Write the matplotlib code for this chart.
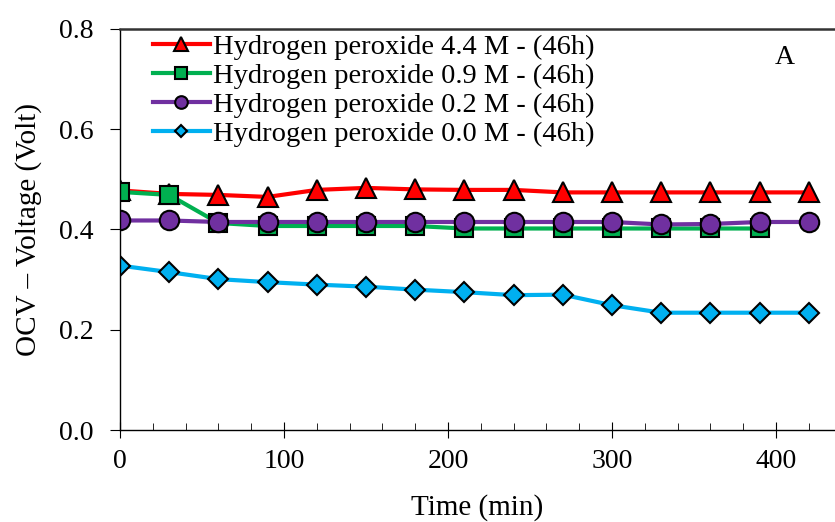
import matplotlib.pyplot as plt
from matplotlib.ticker import MultipleLocator

plt.rcParams['font.family'] = ['Liberation Serif', 'DejaVu Serif']

time_min = [0, 30, 60, 90, 120, 150, 180, 210, 240, 270, 300, 330, 360, 390, 420]

h2o2_44 = [0.478, 0.471, 0.469, 0.465, 0.479, 0.483, 0.480, 0.479, 0.479, 0.474,
           0.474, 0.474, 0.474, 0.474, 0.474]
h2o2_09 = [0.475, 0.469, 0.413, 0.407, 0.407, 0.407, 0.407, 0.402, 0.402, 0.402,
           0.402, 0.402, 0.402, 0.402]
h2o2_02 = [0.418, 0.418, 0.415, 0.415, 0.415, 0.415, 0.415, 0.415, 0.415, 0.415,
           0.415, 0.410, 0.411, 0.415, 0.415]
h2o2_00 = [0.328, 0.315, 0.301, 0.295, 0.290, 0.286, 0.280, 0.275, 0.269, 0.270,
           0.249, 0.234, 0.234, 0.234, 0.234]

labels = ['Hydrogen peroxide 4.4 M - (46h)',
          'Hydrogen peroxide 0.9 M - (46h)',
          'Hydrogen peroxide 0.2 M - (46h)',
          'Hydrogen peroxide 0.0 M - (46h)']

fig = plt.figure(figsize=(8.35, 5.22), dpi=100)
ax = fig.add_axes([120 / 835, 1 - 430 / 522, 715 / 835, 401 / 522])

lw = 3
ax.plot(time_min, h2o2_44, color='#FF0000', lw=lw, marker='^', ms=15,
        mec='black', mew=1.5, label=labels[0])
ax.plot(time_min[:len(h2o2_09)], h2o2_09, color='#00B050', lw=lw, marker='s', ms=13,
        mec='black', mew=1.5, label=labels[1])
ax.plot(time_min, h2o2_02, color='#7030A0', lw=lw, marker='o', ms=14,
        mec='black', mew=1.5, label=labels[2])
ax.plot(time_min, h2o2_00, color='#00B0F0', lw=lw, marker='D', ms=10,
        mec='black', mew=1.5, label=labels[3])

ax.set_xlim(0, 436)
ax.set_ylim(0, 0.8)
ax.xaxis.set_major_locator(MultipleLocator(100))
ax.xaxis.set_minor_locator(MultipleLocator(20))
ax.yaxis.set_major_locator(MultipleLocator(0.2))
ax.yaxis.set_major_formatter(plt.FuncFormatter(lambda v, p: f'{v:.1f}'))

ax.spines['right'].set_visible(False)
for s in ['left', 'bottom']:
    ax.spines[s].set_linewidth(1.0)
ax.spines['top'].set_linewidth(1.8)
ax.spines['top'].set_color('#333333')

ax.tick_params(axis='x', which='major', direction='inout', length=12, labelsize=20, pad=8)
ax.tick_params(axis='x', which='minor', direction='in', length=5)
ax.tick_params(axis='y', which='major', direction='out', length=7, labelsize=20, pad=12)

ax.set_xlabel('Time (min)', fontsize=21, labelpad=14)
ax.set_ylabel('OCV – Voltage (Volt)', fontsize=21, labelpad=12)

ax.text(0.929, 0.93, 'A', transform=ax.transAxes, fontsize=20, ha='center', va='center')

ax.legend(loc='upper left', bbox_to_anchor=(0.03, 1.015), frameon=False, fontsize=20.5,
          handlelength=2.0, handletextpad=0.1, labelspacing=0.1, markerscale=0.65,
          borderaxespad=0)

fig.savefig('out.png', dpi=100)
